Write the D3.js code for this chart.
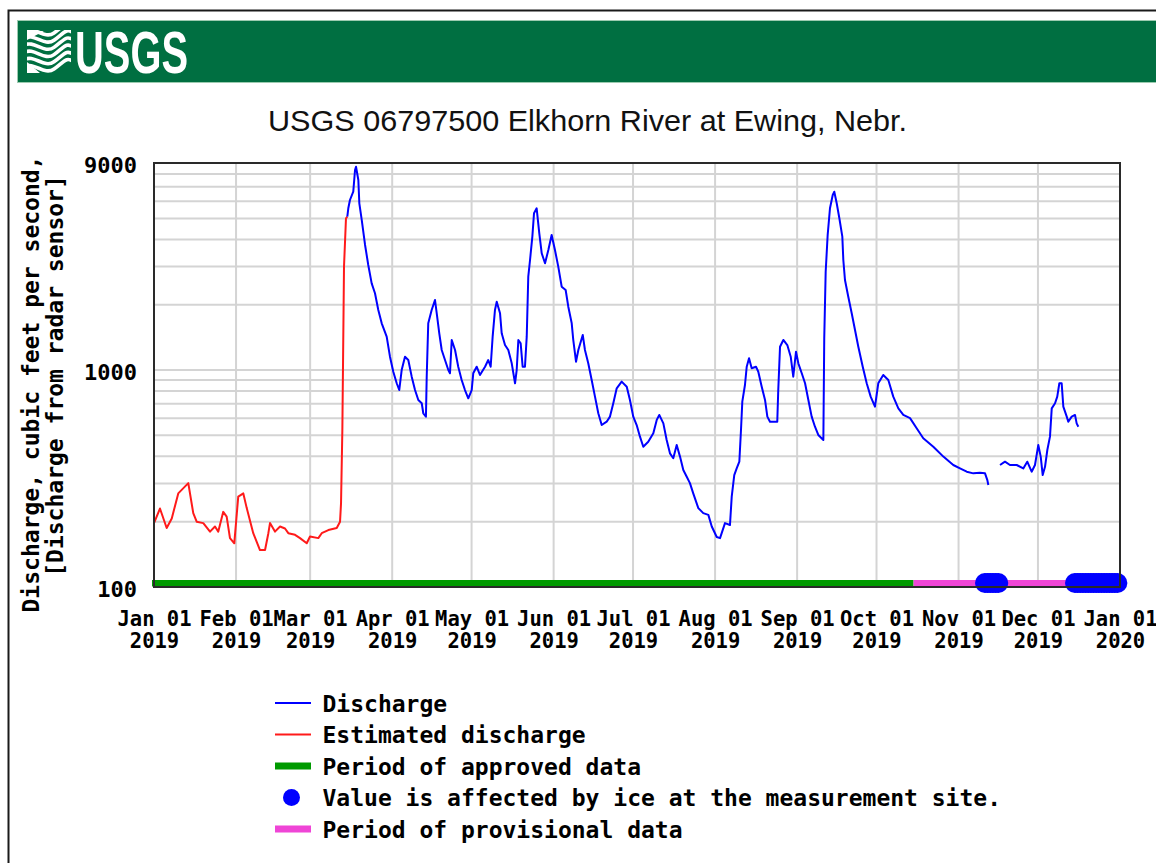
<!DOCTYPE html>
<html>
<head>
<meta charset="utf-8">
<script src="https://cdn.jsdelivr.net/npm/d3@7"></script>
<style>
  body { margin: 0; background: #fff; }
  svg { display: block; }
  .mono { font-family: "DejaVu Sans Mono", monospace; font-weight: bold; fill: #000; }
  .grid line { stroke: #d4d4d4; stroke-width: 2; }
  .line-path { fill: none; stroke-width: 2; stroke-linejoin: round; }
</style>
</head>
<body>
<div class="svg-wrapper"></div>
<script>
console.log("drawing Elkhorn River hydrograph");

const titleText = "USGS 06797500 Elkhorn River at Ewing, Nebr.";
const yLabelLines = ["Discharge, cubic feet per second,", "[Discharge from radar sensor]"];

// estimated discharge (red), Jan - mid March 2019
const estDates = ["01-01T00","01-03T06","01-05T19","01-07T17","01-10T04","01-13T23","01-15T20","01-17T03",
  "01-19T15","01-22T04","01-24T01","01-25T07","01-27T04","01-28T11","01-29T17","01-31T08",
  "02-01T20","02-03T18","02-05T01","02-07T12","02-10T01","02-11T23","02-13T05","02-13T20",
  "02-15T17","02-17T15","02-19T12","02-20T18","02-23T07","02-25T04","02-27T17","02-28T23",
  "03-04T02","03-05T09","03-07T21","03-11T01","03-12T07","03-12T16","03-13T04","03-13T19",
  "03-14T13","03-15T01"];
const estValues = [197,230,187,207,270,301,219,200,
  197,180,190,180,222,211,168,159,
  261,270,231,177,148,148,177,197,
  180,190,186,177,174,168,159,171,
  168,177,183,187,200,243,529,2995,
  5005,5090];

// discharge (blue), null = no value shown (ice)
const qDates = ["03-15T01","03-15T10","03-16T01","03-17T07","03-17T23","03-18T08","03-19T05","03-19T14",
  "03-20T12","03-21T18","03-22T23","03-24T06","03-25T12","03-26T18","03-28T01","03-29T22",
  "03-31T04","04-01T10","04-02T17","04-03T16","04-04T14","04-05T20","04-07T02","04-08T09",
  "04-09T15","04-10T21","04-12T04","04-12T18","04-13T18","04-14T01","04-14T15","04-15T22",
  "04-17T04","04-17T20","04-18T19","04-19T17","04-20T23","04-22T05","04-22T20","04-23T12",
  "04-24T18","04-25T23","04-27T06","04-28T12","04-29T18","05-01T01","05-01T15","05-02T22",
  "05-04T04","05-06T02","05-07T07","05-08T05","05-08T23","05-09T20","05-10T12","05-11T18",
  "05-12T09","05-13T15","05-14T21","05-16T04","05-17T10","05-18T01","05-18T16","05-19T13",
  "05-20T07","05-21T04","05-21T20","05-22T10","05-23T02","05-23T23","05-24T14","05-25T14",
  "05-26T14","05-27T12","05-28T18","05-30T00","05-31T06","06-01T12","06-02T18","06-04T01",
  "06-05T13","06-06T13","06-07T20","06-08T10","06-09T11","06-10T08","06-12T00","06-12T20",
  "06-14T02","06-15T09","06-16T15","06-17T21","06-19T04","06-21T01","06-22T07","06-23T13",
  "06-24T20","06-26T17","06-28T15","06-29T20","07-01T02","07-02T09","07-03T15","07-04T21",
  "07-06T18","07-08T16","07-09T23","07-10T22","07-12T11","07-13T17","07-14T23","07-16T05",
  "07-17T12","07-18T18","07-20T00","07-21T07","07-22T12","07-23T18","07-25T16","07-27T13",
  "07-29T11","07-30T18","08-01T15","08-02T21","08-04T18","08-06T15","08-07T07","08-08T06",
  "08-09T04","08-10T04","08-10T19","08-11T07","08-12T07","08-12T23","08-13T20","08-14T20",
  "08-16T11","08-17T08","08-18T15","08-19T21","08-20T18","08-21T18","08-24T12","08-24T21",
  "08-25T13","08-26T19","08-28T07","08-29T14","08-30T13","08-31T14","09-01T11","09-02T18",
  "09-04T00","09-05T06","09-06T12","09-07T18","09-09T00","09-10T22","09-11T06","09-11T19",
  "09-12T13","09-13T10","09-14T11","09-15T01","09-15T23","09-16T23","09-18T02","09-18T11",
  "09-19T02","09-20T08","09-21T15","09-22T21","09-24T03","09-25T19","09-27T07","09-28T19",
  "09-30T10","10-01T16","10-03T13","10-05T11","10-07T08","10-09T06","10-11T03","10-13T16",
  "10-16T04","10-18T16","10-22T11","10-26T06","10-30T00","11-01T13","11-04T02","11-06T14",
  "11-09T02","11-11T00","11-11T21","11-12T06","11-14T12","11-16T16","11-18T13","11-20T10",
  "11-22T23","11-25T11","11-26T23","11-28T15","11-29T21","12-01T03","12-02T01","12-02T19",
  "12-03T16","12-04T13","12-05T13","12-06T05","12-07T11","12-08T07","12-09T02","12-09T23",
  "12-10T14","12-11T21","12-12T11","12-13T18","12-15T00","12-15T15","12-16T06"];
const qValues = [5090,5566,6077,6637,8356,8650,7515,5869,
  4914,3770,3049,2510,2258,1891,1642,1425,
  1152,982,869,809,1000,1152,1112,932,
  809,728,703,632,610,932,1642,1891,
  2103,1826,1477,1237,1112,1000,966,1376,
  1237,1036,900,809,741,809,966,1036,
  949,1036,1112,1036,1425,1891,2065,1826,
  1477,1304,1237,1074,869,1000,1376,1328,
  1036,1036,1425,2693,3215,4117,5277,5566,
  4268,3452,3105,3575,4192,3575,2995,2422,
  2339,1959,1642,1376,1092,1237,1451,1237,
  1074,900,754,632,558,578,610,703,
  824,884,838,728,610,558,493,443,
  467,511,589,621,568,476,413,392,
  451,399,346,322,301,270,231,219,
  215,190,170,168,197,193,261,328,
  352,378,529,715,853,1036,1133,1019,
  1036,982,838,728,610,578,578,809,
  1281,1376,1304,1152,932,1215,1074,966,
  869,728,610,548,502,476,1401,2840,
  4192,5566,6410,6637,5869,5005,4117,3215,
  2600,2178,1826,1530,1281,1036,869,754,
  678,869,949,900,754,666,621,600,
  539,485,443,399,365,352,340,334,
  336,334,311,295,null,365,378,365,
  365,352,378,340,365,451,399,328,
  358,428,493,666,703,754,869,869,
  678,610,578,610,621,568,548];

// days flagged "affected by ice"
const iceDates = ["2019-11-11","2019-11-12","2019-11-13","2019-11-14","2019-11-15","2019-11-16",
  "2019-12-15","2019-12-16","2019-12-17","2019-12-18","2019-12-19","2019-12-20","2019-12-21",
  "2019-12-22","2019-12-23","2019-12-24","2019-12-25","2019-12-26","2019-12-27","2019-12-28",
  "2019-12-29","2019-12-30","2019-12-31"];

const approvedPeriod = ["2019-01-01", "2019-10-15"];
const provisionalPeriod = ["2019-10-15", "2020-01-01"];

const yTickValues = [100, 1000, 9000];
const yGridValues = [200, 300, 400, 500, 600, 700, 800, 900, 1000, 2000, 3000, 4000, 5000, 6000, 7000, 8000];

const legendLabels = ["Discharge", "Estimated discharge", "Period of approved data",
  "Value is affected by ice at the measurement site.", "Period of provisional data"];

const parseHour = d3.timeParse("%Y-%m-%dT%H");
const parseDay = d3.timeParse("%Y-%m-%d");
const toDate = s => parseHour("2019-" + s);

const width = 1156, height = 863;
const plot = {left: 154, right: 1120, top: 163, bottom: 587};

const svg = d3.select(".svg-wrapper")
  .append("svg")
  .attr("width", width)
  .attr("height", height)
  .attr("viewBox", `0 0 ${width} ${height}`);

svg.append("rect").attr("width", width).attr("height", height).attr("fill", "#fff");

// page frame + USGS banner
svg.append("path")
  .attr("d", `M8.5,${height} L8.5,10.5 L${width},10.5`)
  .attr("fill", "none")
  .attr("stroke", "#1a1a1a")
  .attr("stroke-width", 2);

svg.append("rect")
  .attr("x", 17.5).attr("y", 20.5)
  .attr("width", width).attr("height", 62)
  .attr("fill", "#006f41")
  .attr("stroke", "#9ccbb0")
  .attr("stroke-width", 1);

const logo = svg.append("g");
logo.append("clipPath").attr("id", "logo-clip")
  .append("rect").attr("x", 27).attr("y", 30).attr("width", 44).attr("height", 43);
const waves = logo.append("g").attr("clip-path", "url(#logo-clip)");
[0, 1, 2, 3, 4, 5].forEach(function(i){
  const o = i * 7.2;
  waves.append("path")
    .attr("d", `M24,${31 + o} C34,${25 + o} 44,${40 + o} 54,${33 + o} S66,${20 + o} 74,${26 + o}`)
    .attr("fill", "none")
    .attr("stroke", "#fff")
    .attr("stroke-width", 3.6);
});
logo.append("path")
  .attr("d", "M27,31 L44,31 L27,40 Z M27,73 L27,62 L40,73 Z")
  .attr("fill", "#fff");
logo.append("text")
  .attr("x", 75).attr("y", 73)
  .attr("textLength", 113)
  .attr("lengthAdjust", "spacingAndGlyphs")
  .style("font-family", "'Liberation Sans Narrow', 'Liberation Sans', sans-serif")
  .style("font-weight", "bold")
  .style("font-size", "60px")
  .attr("fill", "#fff")
  .text("USGS");

// title
svg.append("text")
  .attr("x", 587.5).attr("y", 131)
  .attr("text-anchor", "middle")
  .attr("textLength", 639)
  .attr("lengthAdjust", "spacingAndGlyphs")
  .style("font-family", "'Liberation Sans', Arial, sans-serif")
  .style("font-size", "30px")
  .attr("fill", "#111")
  .text(titleText);

// scales
const xScale = d3.scaleTime()
  .domain([parseDay("2019-01-01"), parseDay("2020-01-01")])
  .range([plot.left, plot.right]);

const yScale = d3.scaleLog()
  .domain([100, 9000])
  .range([plot.bottom, plot.top]);

const monthTicks = xScale.ticks(d3.timeMonth.every(1));

// grid
const grid = svg.append("g").attr("class", "grid");
grid.selectAll("line.h")
  .data(yGridValues)
  .join("line")
  .attr("class", "h")
  .attr("x1", xScale.range()[0]).attr("x2", xScale.range()[1])
  .attr("y1", d => yScale(d)).attr("y2", d => yScale(d));
grid.selectAll("line.v")
  .data(monthTicks.slice(1, -1))
  .join("line")
  .attr("class", "v")
  .attr("x1", d => xScale(d)).attr("x2", d => xScale(d))
  .attr("y1", yScale.range()[0]).attr("y2", yScale.range()[1]);

// axes
const xAxisG = svg.append("g")
  .attr("transform", `translate(0,${plot.bottom})`)
  .call(d3.axisBottom(xScale).tickValues(monthTicks).tickSize(0));
xAxisG.select(".domain").remove();
const fmtMD = d3.timeFormat("%b %d"), fmtY = d3.timeFormat("%Y");
xAxisG.selectAll(".tick text")
  .attr("class", "mono")
  .attr("y", null).attr("dy", null)
  .style("font-size", "20.5px")
  .each(function(d){
    const t = d3.select(this);
    t.text(null);
    t.append("tspan").attr("x", 0).attr("y", 38.5).text(fmtMD(d));
    t.append("tspan").attr("x", 0).attr("y", 60.5).text(fmtY(d));
  });

const yAxisG = svg.append("g")
  .attr("transform", `translate(${plot.left},0)`)
  .call(d3.axisLeft(yScale).tickValues(yTickValues).tickFormat(d3.format("d")).tickSize(0).tickPadding(17));
yAxisG.select(".domain").remove();
yAxisG.selectAll(".tick text")
  .attr("class", "mono")
  .attr("dy", "0.45em")
  .style("font-size", "22px");

// y label, two rotated lines
svg.selectAll("text.ylabel")
  .data(yLabelLines)
  .join("text")
  .attr("class", "ylabel mono")
  .attr("text-anchor", "middle")
  .attr("transform", (d, i) => i === 0 ? "translate(38.5,384) rotate(-90)" : "translate(63,376) rotate(-90)")
  .style("font-size", "23px")
  .text(d => d);

// series
const estData = estDates.map((d, i) => ({t: toDate(d), v: estValues[i]}));
const qData = qDates.map((d, i) => ({t: toDate(d), v: qValues[i]}));

const lineGen = d3.line()
  .defined(d => d.v != null)
  .x(d => xScale(d.t))
  .y(d => yScale(d.v));

svg.append("path")
  .attr("class", "line-path")
  .attr("stroke", "#ff1a1a")
  .attr("d", lineGen(estData));

svg.append("path")
  .attr("class", "line-path")
  .attr("stroke", "#0000ff")
  .attr("d", lineGen(qData));

// data status bars along the bottom
const barY = plot.bottom - 7;
svg.append("rect")
  .attr("x", xScale(parseDay(approvedPeriod[0])) - 2)
  .attr("y", barY)
  .attr("width", xScale(parseDay(approvedPeriod[1])) - xScale(parseDay(approvedPeriod[0])) + 2)
  .attr("height", 6.5)
  .attr("fill", "#009a00");
svg.append("rect")
  .attr("x", xScale(parseDay(provisionalPeriod[0])))
  .attr("y", barY)
  .attr("width", xScale(parseDay(provisionalPeriod[1])) - xScale(parseDay(provisionalPeriod[0])))
  .attr("height", 6.5)
  .attr("fill", "#ef45d6");

// ice markers
svg.selectAll("circle.ice")
  .data(iceDates.map(parseDay))
  .join("circle")
  .attr("class", "ice")
  .attr("cx", d => xScale(d))
  .attr("cy", plot.bottom - 4)
  .attr("r", 10)
  .attr("fill", "#0000ff");

// plot frame
svg.append("rect")
  .attr("x", plot.left).attr("y", plot.top)
  .attr("width", plot.right - plot.left)
  .attr("height", plot.bottom - plot.top)
  .attr("fill", "none")
  .attr("stroke", "#2a2a2a")
  .attr("stroke-width", 2);

// legend
const legend = svg.append("g").attr("transform", "translate(275,703)");
const rowH = 31.5;
legendLabels.forEach(function(label, i){
  const row = legend.append("g").attr("transform", `translate(0,${i * rowH})`);
  if(i === 0 || i === 1){
    row.append("line")
      .attr("x1", 0).attr("x2", 36).attr("y1", 0).attr("y2", 0)
      .attr("stroke", i === 0 ? "#0000ff" : "#ff1a1a")
      .attr("stroke-width", 2);
  } else if(i === 2 || i === 4){
    row.append("rect")
      .attr("x", 0).attr("y", -3.5).attr("width", 36).attr("height", 7)
      .attr("fill", i === 2 ? "#009a00" : "#ef45d6");
  } else {
    row.append("circle")
      .attr("cx", 16.5).attr("cy", 0).attr("r", 8.5)
      .attr("fill", "#0000ff");
  }
  row.append("text")
    .attr("class", "mono")
    .attr("x", 47.5)
    .attr("y", 8.5)
    .style("font-size", "23px")
    .text(label);
});
</script>
</body>
</html>
